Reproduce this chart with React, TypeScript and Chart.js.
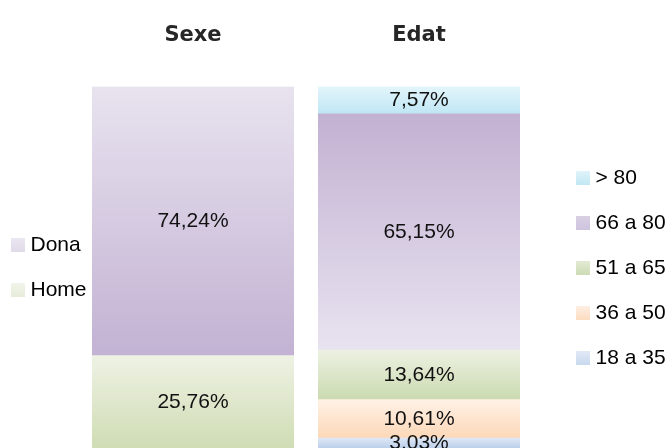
import React, { useEffect, useRef } from "react";
import { Chart, registerables } from "chart.js";

Chart.register(...registerables);

// ---- Data ----
const sexeCategories = ["Sexe"];
const sexeLabels = ["Home", "Dona"];
const sexeValues = [25.76, 74.24];

const edatCategories = ["Edat"];
const edatLabels = ["18 a 35", "36 a 50", "51 a 65", "66 a 80", "> 80"];
const edatValues = [3.03, 10.61, 13.64, 65.15, 7.57];

// ---- Styles ----
const sexeGradients = [
  ["#eef2e4", "#cfdcb3"],
  ["#e8e3ef", "#c3b2d3"],
];
const sexeLegendGradients = [
  ["#f1f4ea", "#e6ecd9"],
  ["#ebe7f1", "#e0d9e9"],
];

const edatGradients = [
  ["#dfe8f6", "#b9cde9"],
  ["#fff1e6", "#fcd8b8"],
  ["#ecf1e2", "#cbdab0"],
  ["#c3b1d2", "#e8e3f0"],
  ["#e3f5fb", "#bfe7f4"],
];
const edatLegendGradients = [
  ["#e2eaf6", "#c9d9ef"],
  ["#fff0e4", "#fcdcc0"],
  ["#e4ebd6", "#cddcb5"],
  ["#d9d1e4", "#cfc4de"],
  ["#e1f4fa", "#c2e8f4"],
];

const LABEL_FONT = '"Liberation Sans", Arial, sans-serif';
const TITLE_FONT = '"DejaVu Sans", sans-serif';

function makeBg(values: number[], colors: string[][]) {
  return (c: any) => {
    const i = c.datasetIndex;
    const chart = c.chart;
    const ys = chart.scales && chart.scales.y;
    if (c.type !== "data" || !chart.chartArea || !ys) return colors[i][0];
    let base = 0;
    for (let k = 0; k < i; k++) base += values[k];
    const top = base + values[i];
    const y0 = ys.getPixelForValue(top);
    const y1 = ys.getPixelForValue(base);
    const g = chart.ctx.createLinearGradient(0, y0, 0, y1);
    g.addColorStop(0, colors[i][0]);
    g.addColorStop(1, colors[i][1]);
    return g;
  };
}

const valueLabelPlugin = {
  id: "valueLabels",
  afterDatasetsDraw(chart: any) {
    const ctx = chart.ctx;
    ctx.save();
    ctx.font = `21px ${LABEL_FONT}`;
    ctx.fillStyle = "#111111";
    ctx.textAlign = "center";
    ctx.textBaseline = "middle";
    chart.data.datasets.forEach((ds: any, i: number) => {
      const meta = chart.getDatasetMeta(i);
      meta.data.forEach((el: any, j: number) => {
        const v = ds.data[j];
        if (v == null) return;
        const p = el.getProps(["x", "y", "base"], true);
        ctx.fillText(v.toFixed(2).replace(".", ",") + "%", p.x, (p.y + p.base) / 2);
      });
    });
    ctx.restore();
  },
};

function swatch(colors: string[]) {
  const c = document.createElement("canvas");
  c.width = 14;
  c.height = 14;
  const x = c.getContext("2d");
  if (x) {
    const g = x.createLinearGradient(0, 0, 0, 14);
    g.addColorStop(0, colors[0]);
    g.addColorStop(1, colors[1]);
    x.fillStyle = g;
    x.fillRect(0, 0, 14, 14);
  }
  return c;
}

function legendItems(labels: string[], colors: string[][]) {
  return labels
    .map((t, i) => ({
      text: t,
      fillStyle: colors[i][0],
      strokeStyle: "rgba(0,0,0,0)",
      lineWidth: 0,
      hidden: false,
      datasetIndex: i,
      fontColor: "#000000",
      pointStyle: swatch(colors[i]),
    }))
    .reverse();
}

function buildConfig(
  categories: string[],
  labels: string[],
  values: number[],
  gradients: string[][],
  legendColors: string[][],
  title: string,
  side: "left" | "right",
  legendWidth: number,
  spacer: number
): any {
  const scales: any = {
    x: { display: false, stacked: true },
    y: { display: false, stacked: true, min: 0, max: 100 },
  };
  if (spacer > 0) {
    scales.ySpacer = {
      type: "linear",
      position: "right",
      display: true,
      grid: { display: false, drawTicks: false },
      border: { display: false },
      ticks: { display: false },
      afterFit: (s: any) => {
        s.width = spacer;
      },
    };
  }
  return {
    type: "bar",
    data: {
      labels: categories,
      datasets: labels.map((l, i) => ({
        label: l,
        data: [values[i]],
        backgroundColor: makeBg(values, gradients),
        borderWidth: 0,
        xAxisID: "x",
        yAxisID: "y",
        categoryPercentage: 1,
        barPercentage: 1,
      })),
    },
    options: {
      responsive: false,
      animation: false,
      layout: { padding: side === "right" ? { left: 12 } : 0 },
      scales,
      plugins: {
        title: {
          display: true,
          text: title,
          fullSize: false,
          padding: { top: 22.5, bottom: 38.8 },
          font: { family: TITLE_FONT, weight: "bold", size: 21 },
          color: "#262626",
        },
        legend: {
          position: side,
          fullSize: false,
          maxWidth: legendWidth,
          labels: {
            usePointStyle: true,
            pointStyleWidth: 4,
            boxWidth: 14,
            boxHeight: 14,
            padding: 24,
            color: "#000000",
            font: { family: LABEL_FONT, size: 21 },
            generateLabels: () => legendItems(labels, legendColors),
          },
        },
        tooltip: { enabled: false },
      },
    },
    plugins: [valueLabelPlugin],
  };
}

function ChartCanvas(props: { config: () => any; left: number; width: number; height: number }) {
  const ref = useRef<HTMLCanvasElement | null>(null);
  useEffect(() => {
    if (!ref.current) return;
    const chart = new Chart(ref.current, props.config());
    return () => chart.destroy();
  }, []);
  return (
    <canvas
      ref={ref}
      width={props.width}
      height={props.height}
      style={{ position: "absolute", left: props.left, top: 0, width: props.width, height: props.height, display: "block" }}
    />
  );
}

export default function App() {
  return (
    <div
      style={{
        position: "fixed",
        left: 0,
        top: 0,
        width: 669,
        height: 448,
        overflow: "hidden",
        background: "#ffffff",
      }}
    >
      <ChartCanvas
        left={-8}
        width={302}
        height={449}
        config={() =>
          buildConfig(sexeCategories, sexeLabels, sexeValues, sexeGradients, sexeLegendGradients, "Sexe", "left", 100, 0)
        }
      />
      <ChartCanvas
        left={306}
        width={363}
        height={449}
        config={() =>
          buildConfig(edatCategories, edatLabels, edatValues, edatGradients, edatLegendGradients, "Edat", "right", 112, 37)
        }
      />
    </div>
  );
}
